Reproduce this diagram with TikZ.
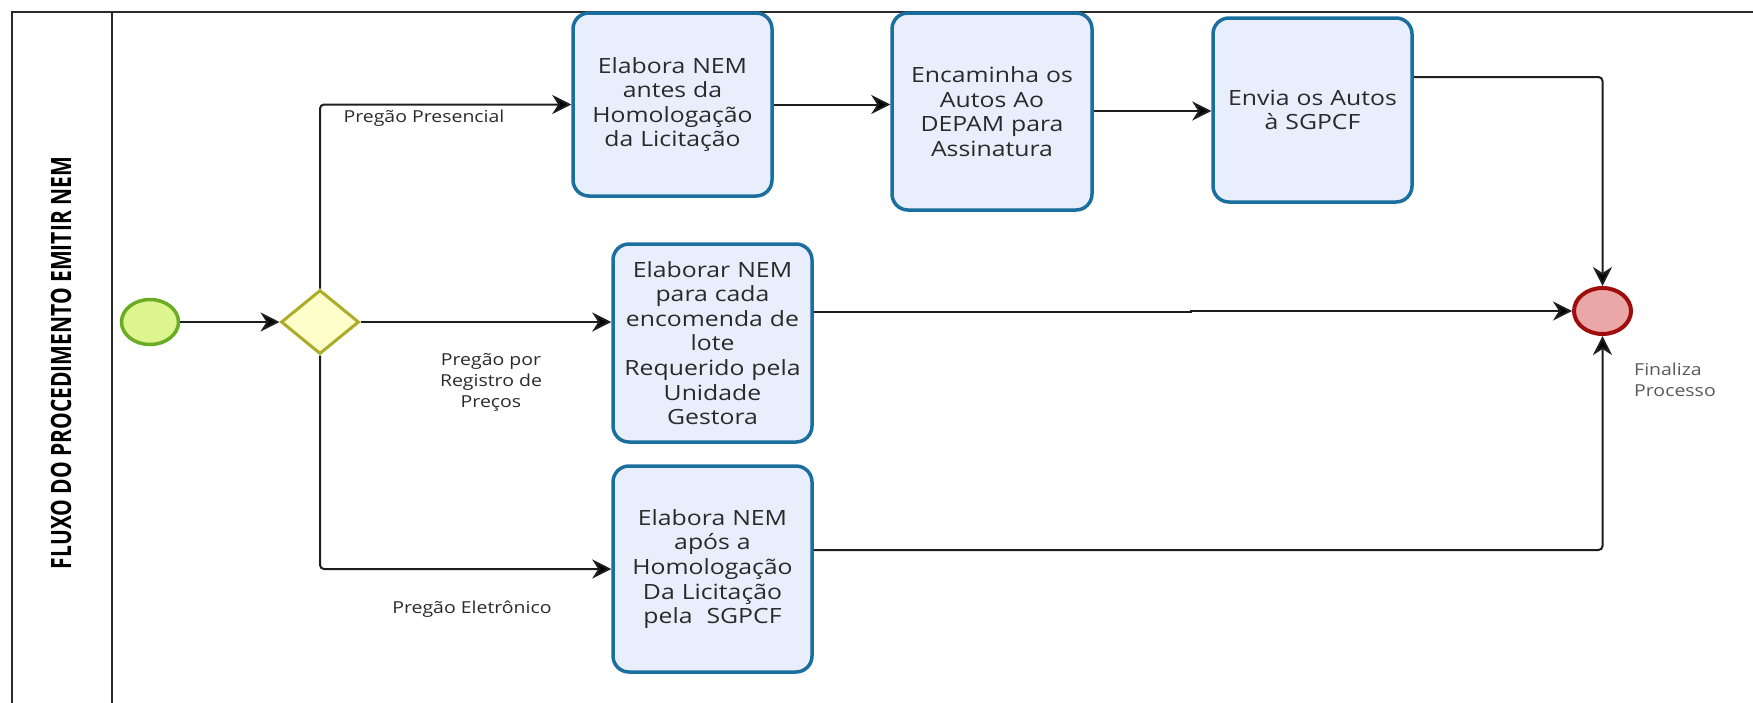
\documentclass[tikz,border=0pt]{standalone}
\usepackage{fontspec}
\setmainfont[FakeStretch=1.18]{Open Sans}
\newfontfamily\titlefont[FakeStretch=0.75]{Open Sans}
\usetikzlibrary{shapes.geometric,arrows.meta}

\definecolor{taskline}{RGB}{27, 111, 158}
\definecolor{taskfill}{RGB}{233, 238, 252}
\definecolor{startline}{RGB}{106, 172, 36}
\definecolor{startfill}{RGB}{221, 245, 142}
\definecolor{gateline}{RGB}{172, 172, 40}
\definecolor{gatefill}{RGB}{255, 255, 204}
\definecolor{endline}{RGB}{160, 13, 13}
\definecolor{endfill}{RGB}{235, 167, 167}
\definecolor{textgray}{RGB}{42, 42, 42}
\definecolor{edgecolor}{RGB}{30, 30, 30}

\begin{document}
\begin{tikzpicture}[x=1pt, y=-1pt,
    task/.style={draw=taskline, fill=taskfill, line width=3.5pt, rounded corners=16pt,
        text=textgray, align=center, text width=182pt, font=\fontsize{21}{24.6}\selectfont},
    startev/.style={ellipse, draw=startline, fill=startfill, line width=3.5pt,
        minimum width=57pt, minimum height=45pt, inner sep=0pt},
    endev/.style={ellipse, draw=endline, fill=endfill, line width=4pt,
        minimum width=57pt, minimum height=46pt, inner sep=0pt},
    gate/.style={diamond, draw=gateline, fill=gatefill, line width=3pt,
        minimum width=78pt, minimum height=64pt, inner sep=0pt},
    flow/.style={draw, edgecolor, line width=2pt, rounded corners=4pt,
        -{Stealth[length=19pt, width=19pt, inset=6pt, fill=black]}},
    lbl/.style={text=textgray, align=center, inner sep=0pt, font=\fontsize{16.5}{21}\selectfont}
    ]

    \useasboundingbox (0,0) rectangle (1753,702);
    \clip (0,0) rectangle (1753,702);

    % Define pool
    \draw[line width=2pt, textgray] (12,11.5) rectangle (1800,760);
    \draw[line width=2pt, textgray] (112,11.5) -- (112,760);
    \node[rotate=90, text=black, font=\titlefont\bfseries\fontsize{28}{30}\selectfont]
        (pool) at (61,363) {FLUXO DO PROCEDIMENTO EMITIR NEM};

    % Define events and gateway
    \node[startev] (start) at (150,322) {};
    \node[gate] (gw) at (320,322) {};
    \node[endev] (end) at (1602.5,311) {};

    % Define tasks
    \node[task, minimum width=199pt, minimum height=183pt] (b1) at (672.5,104.5)
        {Elabora NEM\\antes da\\Homologação\\da Licitação};
    \node[task, minimum width=200pt, minimum height=197pt] (b2) at (992,111.5)
        {Encaminha os\\Autos Ao\\DEPAM para\\Assinatura};
    \node[task, minimum width=199pt, minimum height=184pt] (b3) at (1312.5,110)
        {Envia os Autos\\à SGPCF};
    \node[task, minimum width=199pt, minimum height=198pt] (b4) at (712.5,343)
        {Elaborar NEM\\para cada\\encomenda de\\lote\\Requerido pela\\Unidade\\Gestora};
    \node[task, minimum width=199pt, minimum height=206pt] (b5) at (712.5,569)
        {Elabora NEM\\após a\\Homologação\\Da Licitação\\pela\ \ SGPCF};

    % Define labels
    \node[lbl] (lpres) at (424,118) {Pregão Presencial};
    \node[lbl] (lreg) at (491,382) {Pregão por\\Registro de\\Preços};
    \node[lbl] (lele) at (472,609) {Pregão Eletrônico};
    \node[lbl, anchor=west, align=left, text=black!65] (lend) at (1634,380) {Finaliza\\Processo};

    % Define edges
    \draw[flow] (start.east) -- (gw.west);
    \draw[flow] (gw.north) |- (b1.west);
    \draw[flow] (gw.east) -- (gw.east -| b4.west);
    \draw[flow] (gw.south) |- (b5.west);
    \draw[flow] (b1.east) -- (b1.east -| b2.west);
    \draw[flow] ([yshift=0.5pt]b2.east) -- ([yshift=0.5pt]b2.east -| b3.west);
    \draw[flow] ([yshift=33pt]b3.east) -| (end.north);
    \coordinate (jog) at (1191,312);
    \draw[flow, rounded corners=0pt] ([yshift=31pt]b4.east) -- (jog) |- (end.west);
    \draw[flow] ([yshift=19pt]b5.east) -| (end.south);
\end{tikzpicture}
\end{document}
